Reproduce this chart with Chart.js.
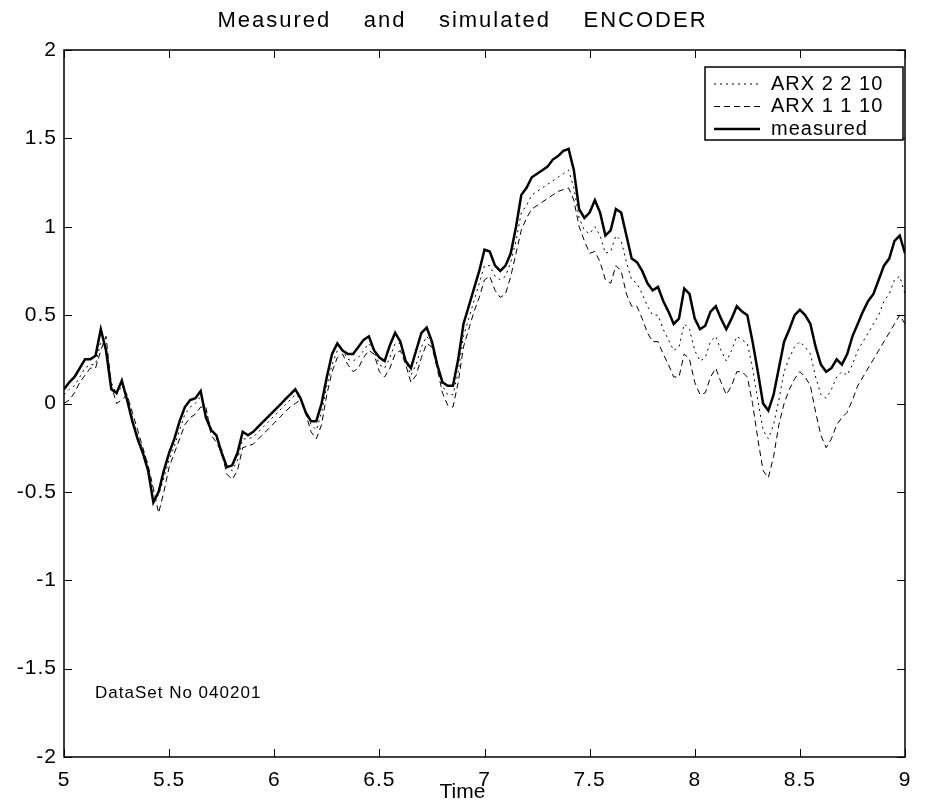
<!DOCTYPE html>
<html>
<head>
<meta charset="utf-8">
<title>Measured and simulated ENCODER</title>
<script src="https://cdn.jsdelivr.net/npm/chart.js"></script>
<style>
html, body { margin: 0; padding: 0; background: #fff; }
</style>
</head>
<body>
<canvas id="encChart" width="941" height="802"></canvas>
<script>
// time axis, one sample every 0.025 s
const times = [
  5.000, 5.025, 5.050, 5.075, 5.100, 5.125, 5.150, 5.175, 5.200, 5.225,
  5.250, 5.275, 5.300, 5.325, 5.350, 5.375, 5.400, 5.425, 5.450, 5.475,
  5.500, 5.525, 5.550, 5.575, 5.600, 5.625, 5.650, 5.675, 5.700, 5.725,
  5.750, 5.775, 5.800, 5.825, 5.850, 5.875, 5.900, 5.925, 5.950, 5.975,
  6.000, 6.025, 6.050, 6.075, 6.100, 6.125, 6.150, 6.175, 6.200, 6.225,
  6.250, 6.275, 6.300, 6.325, 6.350, 6.375, 6.400, 6.425, 6.450, 6.475,
  6.500, 6.525, 6.550, 6.575, 6.600, 6.625, 6.650, 6.675, 6.700, 6.725,
  6.750, 6.775, 6.800, 6.825, 6.850, 6.875, 6.900, 6.925, 6.950, 6.975,
  7.000, 7.025, 7.050, 7.075, 7.100, 7.125, 7.150, 7.175, 7.200, 7.225,
  7.250, 7.275, 7.300, 7.325, 7.350, 7.375, 7.400, 7.425, 7.450, 7.475,
  7.500, 7.525, 7.550, 7.575, 7.600, 7.625, 7.650, 7.675, 7.700, 7.725,
  7.750, 7.775, 7.800, 7.825, 7.850, 7.875, 7.900, 7.925, 7.950, 7.975,
  8.000, 8.025, 8.050, 8.075, 8.100, 8.125, 8.150, 8.175, 8.200, 8.225,
  8.250, 8.275, 8.300, 8.325, 8.350, 8.375, 8.400, 8.425, 8.450, 8.475,
  8.500, 8.525, 8.550, 8.575, 8.600, 8.625, 8.650, 8.675, 8.700, 8.725,
  8.750, 8.775, 8.800, 8.825, 8.850, 8.875, 8.900, 8.925, 8.950, 8.975,
  9.000
];

const measured = [
  0.08, 0.12, 0.15, 0.20, 0.25, 0.25, 0.27, 0.42, 0.30, 0.08,
  0.06, 0.13, 0.02, -0.10, -0.20, -0.28, -0.38, -0.56, -0.50, -0.38,
  -0.28, -0.20, -0.10, -0.02, 0.02, 0.03, 0.07, -0.08, -0.15, -0.18,
  -0.28, -0.36, -0.35, -0.28, -0.16, -0.18, -0.16, -0.13, -0.10, -0.07,
  -0.04, -0.01, 0.02, 0.05, 0.08, 0.03, -0.05, -0.10, -0.10, 0.00,
  0.15, 0.28, 0.34, 0.30, 0.28, 0.28, 0.32, 0.36, 0.38, 0.30,
  0.26, 0.24, 0.33, 0.40, 0.35, 0.24, 0.20, 0.30, 0.40, 0.43,
  0.35, 0.22, 0.12, 0.10, 0.10, 0.25, 0.45, 0.55, 0.65, 0.75,
  0.87, 0.86, 0.78, 0.75, 0.78, 0.85, 1.00, 1.18, 1.22, 1.28,
  1.30, 1.32, 1.34, 1.38, 1.40, 1.43, 1.44, 1.32, 1.10, 1.05,
  1.08, 1.15, 1.08, 0.95, 0.98, 1.10, 1.08, 0.95, 0.82, 0.80,
  0.75, 0.68, 0.64, 0.66, 0.58, 0.52, 0.45, 0.48, 0.65, 0.62,
  0.48, 0.42, 0.44, 0.52, 0.55, 0.48, 0.42, 0.48, 0.55, 0.52,
  0.50, 0.35, 0.18, 0.00, -0.04, 0.05, 0.20, 0.35, 0.42, 0.50,
  0.53, 0.50, 0.45, 0.32, 0.22, 0.18, 0.20, 0.25, 0.22, 0.28,
  0.38, 0.45, 0.52, 0.58, 0.62, 0.70, 0.78, 0.82, 0.92, 0.95,
  0.85
];

const arx2210 = [
  0.05, 0.08, 0.10, 0.15, 0.20, 0.22, 0.22, 0.35, 0.32, 0.12,
  0.05, 0.10, 0.05, -0.08, -0.18, -0.26, -0.35, -0.50, -0.52, -0.42,
  -0.32, -0.24, -0.15, -0.06, -0.02, 0.00, 0.04, -0.04, -0.14, -0.20,
  -0.26, -0.36, -0.38, -0.32, -0.20, -0.20, -0.19, -0.16, -0.13, -0.10,
  -0.07, -0.04, -0.01, 0.02, 0.05, 0.03, -0.05, -0.12, -0.15, -0.05,
  0.10, 0.22, 0.30, 0.30, 0.25, 0.24, 0.26, 0.30, 0.34, 0.30,
  0.22, 0.20, 0.26, 0.34, 0.34, 0.24, 0.16, 0.22, 0.32, 0.38,
  0.34, 0.22, 0.10, 0.05, 0.05, 0.18, 0.38, 0.48, 0.58, 0.68,
  0.78, 0.78, 0.72, 0.70, 0.72, 0.80, 0.92, 1.08, 1.12, 1.18,
  1.20, 1.22, 1.24, 1.26, 1.28, 1.30, 1.32, 1.22, 1.05, 0.98,
  0.96, 1.00, 0.95, 0.85, 0.86, 0.95, 0.92, 0.80, 0.70, 0.68,
  0.62, 0.55, 0.50, 0.50, 0.42, 0.36, 0.30, 0.32, 0.45, 0.42,
  0.30, 0.24, 0.26, 0.35, 0.38, 0.30, 0.24, 0.30, 0.38, 0.36,
  0.34, 0.20, 0.02, -0.15, -0.20, -0.12, 0.02, 0.18, 0.26, 0.32,
  0.35, 0.32, 0.28, 0.15, 0.05, 0.03, 0.08, 0.15, 0.18, 0.16,
  0.22, 0.30, 0.35, 0.40, 0.45, 0.50, 0.58, 0.62, 0.70, 0.72,
  0.62
];

const arx1110 = [
  0.00, 0.02, 0.06, 0.12, 0.16, 0.20, 0.20, 0.30, 0.38, 0.10,
  0.00, 0.02, 0.05, -0.05, -0.15, -0.25, -0.35, -0.48, -0.62, -0.50,
  -0.36, -0.28, -0.20, -0.12, -0.08, -0.06, -0.02, -0.02, -0.18, -0.22,
  -0.28, -0.40, -0.43, -0.38, -0.25, -0.24, -0.23, -0.20, -0.17, -0.14,
  -0.11, -0.08, -0.05, -0.02, 0.00, 0.02, -0.06, -0.16, -0.20, -0.12,
  0.05, 0.18, 0.26, 0.28, 0.22, 0.18, 0.20, 0.26, 0.30, 0.28,
  0.18, 0.15, 0.20, 0.28, 0.30, 0.22, 0.12, 0.16, 0.26, 0.34,
  0.32, 0.20, 0.06, -0.01, -0.02, 0.12, 0.32, 0.42, 0.52, 0.60,
  0.70, 0.72, 0.64, 0.60, 0.62, 0.72, 0.85, 0.98, 1.05, 1.10,
  1.12, 1.14, 1.16, 1.18, 1.20, 1.21, 1.22, 1.15, 1.00, 0.92,
  0.85, 0.86, 0.80, 0.70, 0.68, 0.78, 0.75, 0.62, 0.55, 0.55,
  0.48, 0.40, 0.35, 0.35, 0.28, 0.22, 0.15, 0.15, 0.28, 0.25,
  0.12, 0.05, 0.06, 0.15, 0.20, 0.12, 0.05, 0.10, 0.18, 0.18,
  0.15, 0.00, -0.20, -0.38, -0.42, -0.30, -0.12, 0.00, 0.08, 0.14,
  0.18, 0.15, 0.10, -0.05, -0.18, -0.25, -0.20, -0.12, -0.08, -0.05,
  0.02, 0.10, 0.15, 0.20, 0.25, 0.30, 0.35, 0.40, 0.45, 0.50,
  0.45
];

const xTicks = [5, 5.5, 6, 6.5, 7, 7.5, 8, 8.5, 9];
const yTicks = [-2, -1.5, -1, -0.5, 0, 0.5, 1, 1.5, 2];

const titleText = 'Measured    and    simulated    ENCODER';
const xLabel = 'Time';
const noteText = 'DataSet No 040201';
const FONT = '"Liberation Sans", Arial, sans-serif';

function pts(vals) {
  return times.map((t, i) => ({ x: t, y: vals[i] }));
}

// frame, inward ticks, title, axis label, note and boxed legend
const plotDecor = {
  id: 'plotDecor',
  beforeDraw(chart) {
    chart.ctx.letterSpacing = '1px';
  },
  afterDraw(chart) {
    const ctx = chart.ctx;
    const a = chart.chartArea;
    const xs = chart.scales.x, ys = chart.scales.y;
    ctx.save();
    ctx.strokeStyle = '#000';
    ctx.fillStyle = '#000';
    ctx.lineWidth = 1.5;
    ctx.setLineDash([]);
    ctx.strokeRect(a.left, a.top, a.right - a.left, a.bottom - a.top);

    ctx.lineWidth = 1;
    const tl = 8;
    ctx.beginPath();
    xTicks.forEach(v => {
      const px = Math.round(xs.getPixelForValue(v)) + 0.5;
      ctx.moveTo(px, a.bottom); ctx.lineTo(px, a.bottom - tl);
      ctx.moveTo(px, a.top); ctx.lineTo(px, a.top + tl);
    });
    yTicks.forEach(v => {
      const py = Math.round(ys.getPixelForValue(v)) + 0.5;
      ctx.moveTo(a.left, py); ctx.lineTo(a.left + tl, py);
      ctx.moveTo(a.right, py); ctx.lineTo(a.right - tl, py);
    });
    ctx.stroke();

    const midX = chart.width / 2 - 8;

    // title
    ctx.letterSpacing = '2px';
    ctx.font = '22px ' + FONT;
    ctx.textAlign = 'center';
    ctx.textBaseline = 'middle';
    ctx.fillText(titleText, midX, 21);

    // x axis label
    ctx.letterSpacing = '0px';
    ctx.font = '21px ' + FONT;
    ctx.fillText(xLabel, midX, 792);

    // note in the lower left corner
    ctx.letterSpacing = '1px';
    ctx.font = '17px ' + FONT;
    ctx.textAlign = 'left';
    ctx.fillText(noteText, a.left + 31, a.bottom - 64);

    // legend box
    const bw = 198, bh = 73;
    const bx = a.right - 2 - bw, by = a.top + 17;
    ctx.fillStyle = '#fff';
    ctx.fillRect(bx, by, bw, bh);
    ctx.lineWidth = 1.5;
    ctx.strokeRect(bx, by, bw, bh);
    ctx.fillStyle = '#000';
    ctx.font = '20px ' + FONT;
    chart.data.datasets.forEach((ds, i) => {
      const ry = by + 17 + i * 22.5;
      ctx.beginPath();
      ctx.lineWidth = ds.borderWidth;
      ctx.setLineDash(ds.borderDash || []);
      ctx.moveTo(bx + 9, ry);
      ctx.lineTo(bx + 55, ry);
      ctx.stroke();
      ctx.setLineDash([]);
      ctx.fillText(ds.label, bx + 66, ry);
    });
    ctx.restore();
  }
};

const tickFont = { family: FONT, size: 21 };

new Chart(document.getElementById('encChart'), {
  type: 'line',
  data: {
    datasets: [
      { label: 'ARX 2 2 10', data: pts(arx2210), borderColor: '#000', borderWidth: 1, borderDash: [2, 4] },
      { label: 'ARX 1 1 10', data: pts(arx1110), borderColor: '#000', borderWidth: 1, borderDash: [6, 4] },
      { label: 'measured', data: pts(measured), borderColor: '#000', borderWidth: 2.5 }
    ]
  },
  options: {
    responsive: false,
    animation: false,
    devicePixelRatio: 1,
    layout: { padding: { top: 50, right: 36, left: 0, bottom: 0 } },
    elements: { point: { radius: 0 }, line: { tension: 0 } },
    plugins: {
      legend: { display: false },
      tooltip: { enabled: false },
      title: { display: false }
    },
    scales: {
      x: {
        type: 'linear',
        min: 5,
        max: 9,
        afterBuildTicks: s => { s.ticks = xTicks.map(v => ({ value: v })); },
        afterFit: s => { s.height = 45; },
        grid: { display: false, drawTicks: false },
        border: { display: false },
        ticks: { color: '#000', font: tickFont, padding: 11, maxRotation: 0, callback: v => String(v) }
      },
      y: {
        type: 'linear',
        min: -2,
        max: 2,
        afterBuildTicks: s => { s.ticks = yTicks.map(v => ({ value: v })); },
        afterFit: s => { s.width = 64; },
        grid: { display: false, drawTicks: false },
        border: { display: false },
        ticks: { color: '#000', font: tickFont, padding: 7, callback: v => String(v) }
      }
    }
  },
  plugins: [plotDecor]
});
</script>
</body>
</html>
